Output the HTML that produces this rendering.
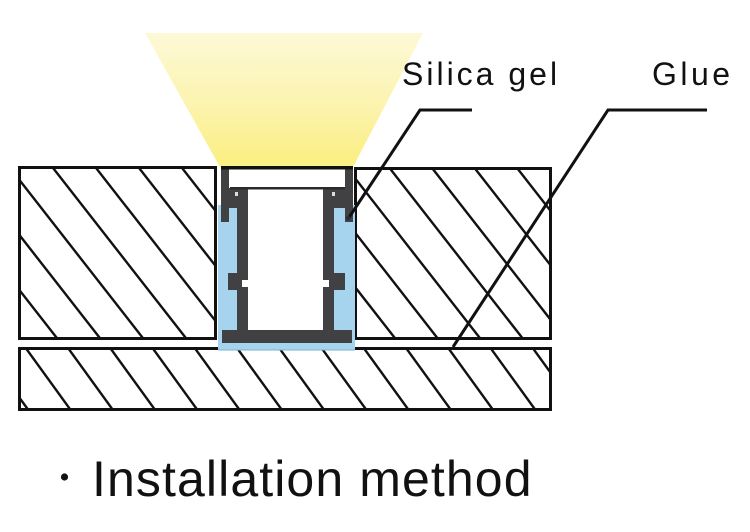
<!DOCTYPE html>
<html>
<head>
<meta charset="utf-8">
<style>
  html,body{margin:0;padding:0;background:#fff;}
  svg{display:block;}
  text{font-family:"Liberation Sans", Arial, sans-serif; fill:#111;}
</style>
</head>
<body>
<svg width="750" height="532" viewBox="0 0 750 532" xmlns="http://www.w3.org/2000/svg">
  <defs>
    <linearGradient id="light" x1="0" y1="0" x2="0" y2="1">
      <stop offset="0" stop-color="#fdf9d8"/>
      <stop offset="0.55" stop-color="#fcf3ad"/>
      <stop offset="1" stop-color="#fbee80"/>
    </linearGradient>
    <clipPath id="cl"><rect x="19.5" y="167.5" width="196" height="171"/></clipPath>
    <clipPath id="cr"><rect x="355.5" y="168.5" width="195" height="170"/></clipPath>
    <clipPath id="cb"><rect x="19.5" y="348.5" width="531" height="61"/></clipPath>
  </defs>

  <!-- light cone -->
  <polygon points="145,33 423,33 353,167 220,167" fill="url(#light)"/>

  <!-- upper left block hatch -->
  <g clip-path="url(#cl)" stroke="#111" stroke-width="2.4">
    <line x1="-163.5" y1="166" x2="-22.9" y2="346"/>
    <line x1="-120.5" y1="166" x2="20.1" y2="346"/>
    <line x1="-77.5" y1="166" x2="63.1" y2="346"/>
    <line x1="-34.5" y1="166" x2="106.1" y2="346"/>
    <line x1="8.5" y1="166" x2="149.1" y2="346"/>
    <line x1="51.5" y1="166" x2="192.1" y2="346"/>
    <line x1="94.5" y1="166" x2="235.1" y2="346"/>
    <line x1="137.5" y1="166" x2="278.1" y2="346"/>
    <line x1="180.5" y1="166" x2="321.1" y2="346"/>
  </g>
  <rect x="19.5" y="167.5" width="196" height="171" fill="none" stroke="#111" stroke-width="3"/>

  <!-- upper right block hatch -->
  <g clip-path="url(#cr)" stroke="#111" stroke-width="2.4">
    <line x1="175.5" y1="166" x2="316.1" y2="346"/>
    <line x1="218" y1="166" x2="358.6" y2="346"/>
    <line x1="260.5" y1="166" x2="401.1" y2="346"/>
    <line x1="303" y1="166" x2="443.6" y2="346"/>
    <line x1="345.5" y1="166" x2="486.1" y2="346"/>
    <line x1="388" y1="166" x2="528.6" y2="346"/>
    <line x1="430.5" y1="166" x2="571.1" y2="346"/>
    <line x1="473" y1="166" x2="613.6" y2="346"/>
    <line x1="515.5" y1="166" x2="656.1" y2="346"/>
  </g>
  <rect x="355.5" y="168.5" width="195" height="170" fill="none" stroke="#111" stroke-width="3"/>

  <!-- lower block hatch -->
  <g clip-path="url(#cb)" stroke="#111" stroke-width="2.4">
    <line x1="-17.3" y1="347" x2="29.8" y2="412"/>
    <line x1="25" y1="347" x2="72.1" y2="412"/>
    <line x1="67.3" y1="347" x2="114.4" y2="412"/>
    <line x1="109.5" y1="347" x2="156.6" y2="412"/>
    <line x1="151.8" y1="347" x2="198.9" y2="412"/>
    <line x1="194" y1="347" x2="241.1" y2="412"/>
    <line x1="236.3" y1="347" x2="283.4" y2="412"/>
    <line x1="278.5" y1="347" x2="325.6" y2="412"/>
    <line x1="320.8" y1="347" x2="367.9" y2="412"/>
    <line x1="363" y1="347" x2="410.1" y2="412"/>
    <line x1="405.3" y1="347" x2="452.4" y2="412"/>
    <line x1="447.5" y1="347" x2="494.6" y2="412"/>
    <line x1="489.8" y1="347" x2="536.9" y2="412"/>
    <line x1="532" y1="347" x2="579.1" y2="412"/>
  </g>
  <rect x="19.5" y="348.5" width="531" height="61" fill="none" stroke="#111" stroke-width="3"/>

  <!-- channel: glue (blue) -->
  <rect x="218" y="205" width="19" height="145" fill="#a6d4ef"/>
  <rect x="334" y="205" width="21" height="145" fill="#a6d4ef"/>
  <rect x="218" y="342" width="137" height="8" fill="#a6d4ef"/>
  <line x1="218" y1="350" x2="355" y2="350" stroke="#7fb0d0" stroke-width="1"/>

  <!-- profile -->
  <g fill="#414143">
    <rect x="221" y="168" width="8" height="54"/>
    <rect x="345" y="168" width="8" height="54"/>
    <rect x="229" y="188" width="19" height="20"/>
    <rect x="323" y="188" width="22" height="20"/>
    <rect x="237" y="190" width="11" height="142"/>
    <rect x="323" y="190" width="11" height="142"/>
    <rect x="228" y="273" width="20" height="17"/>
    <rect x="323" y="273" width="22" height="17"/>
    <rect x="222" y="330" width="130" height="13"/>
  </g>
  <rect x="242" y="280" width="6" height="7" fill="#fff"/>
  <rect x="323" y="280" width="6" height="7" fill="#fff"/>
  <rect x="235" y="192" width="3" height="4" fill="#ddd"/>
  <rect x="332" y="192" width="3" height="4" fill="#ddd"/>
  <rect x="248" y="190" width="75" height="140" fill="#fff"/>

  <!-- diffuser -->
  <rect x="221" y="166" width="132" height="3.5" fill="#111"/>
  <rect x="230" y="169.5" width="115" height="17.5" fill="#fff"/>
  <rect x="230" y="187" width="115" height="2.5" fill="#2a2a2a"/>

  <!-- leader lines -->
  <polyline points="472,110 420,110 348,219" fill="none" stroke="#111" stroke-width="3"/>
  <polyline points="707,110 608,110 453,347" fill="none" stroke="#111" stroke-width="3"/>
  <circle cx="348" cy="218" r="2.2" fill="#2a2a44"/>

  <!-- labels -->
  <text x="402" y="85" font-size="32" letter-spacing="3">Silica gel</text>
  <text x="652" y="85" font-size="32" letter-spacing="3.5">Glue</text>

  <circle cx="64.5" cy="477" r="3.6" fill="#111"/>
  <text x="92" y="496" font-size="50" letter-spacing="1.1">Installation method</text>
</svg>
</body>
</html>
